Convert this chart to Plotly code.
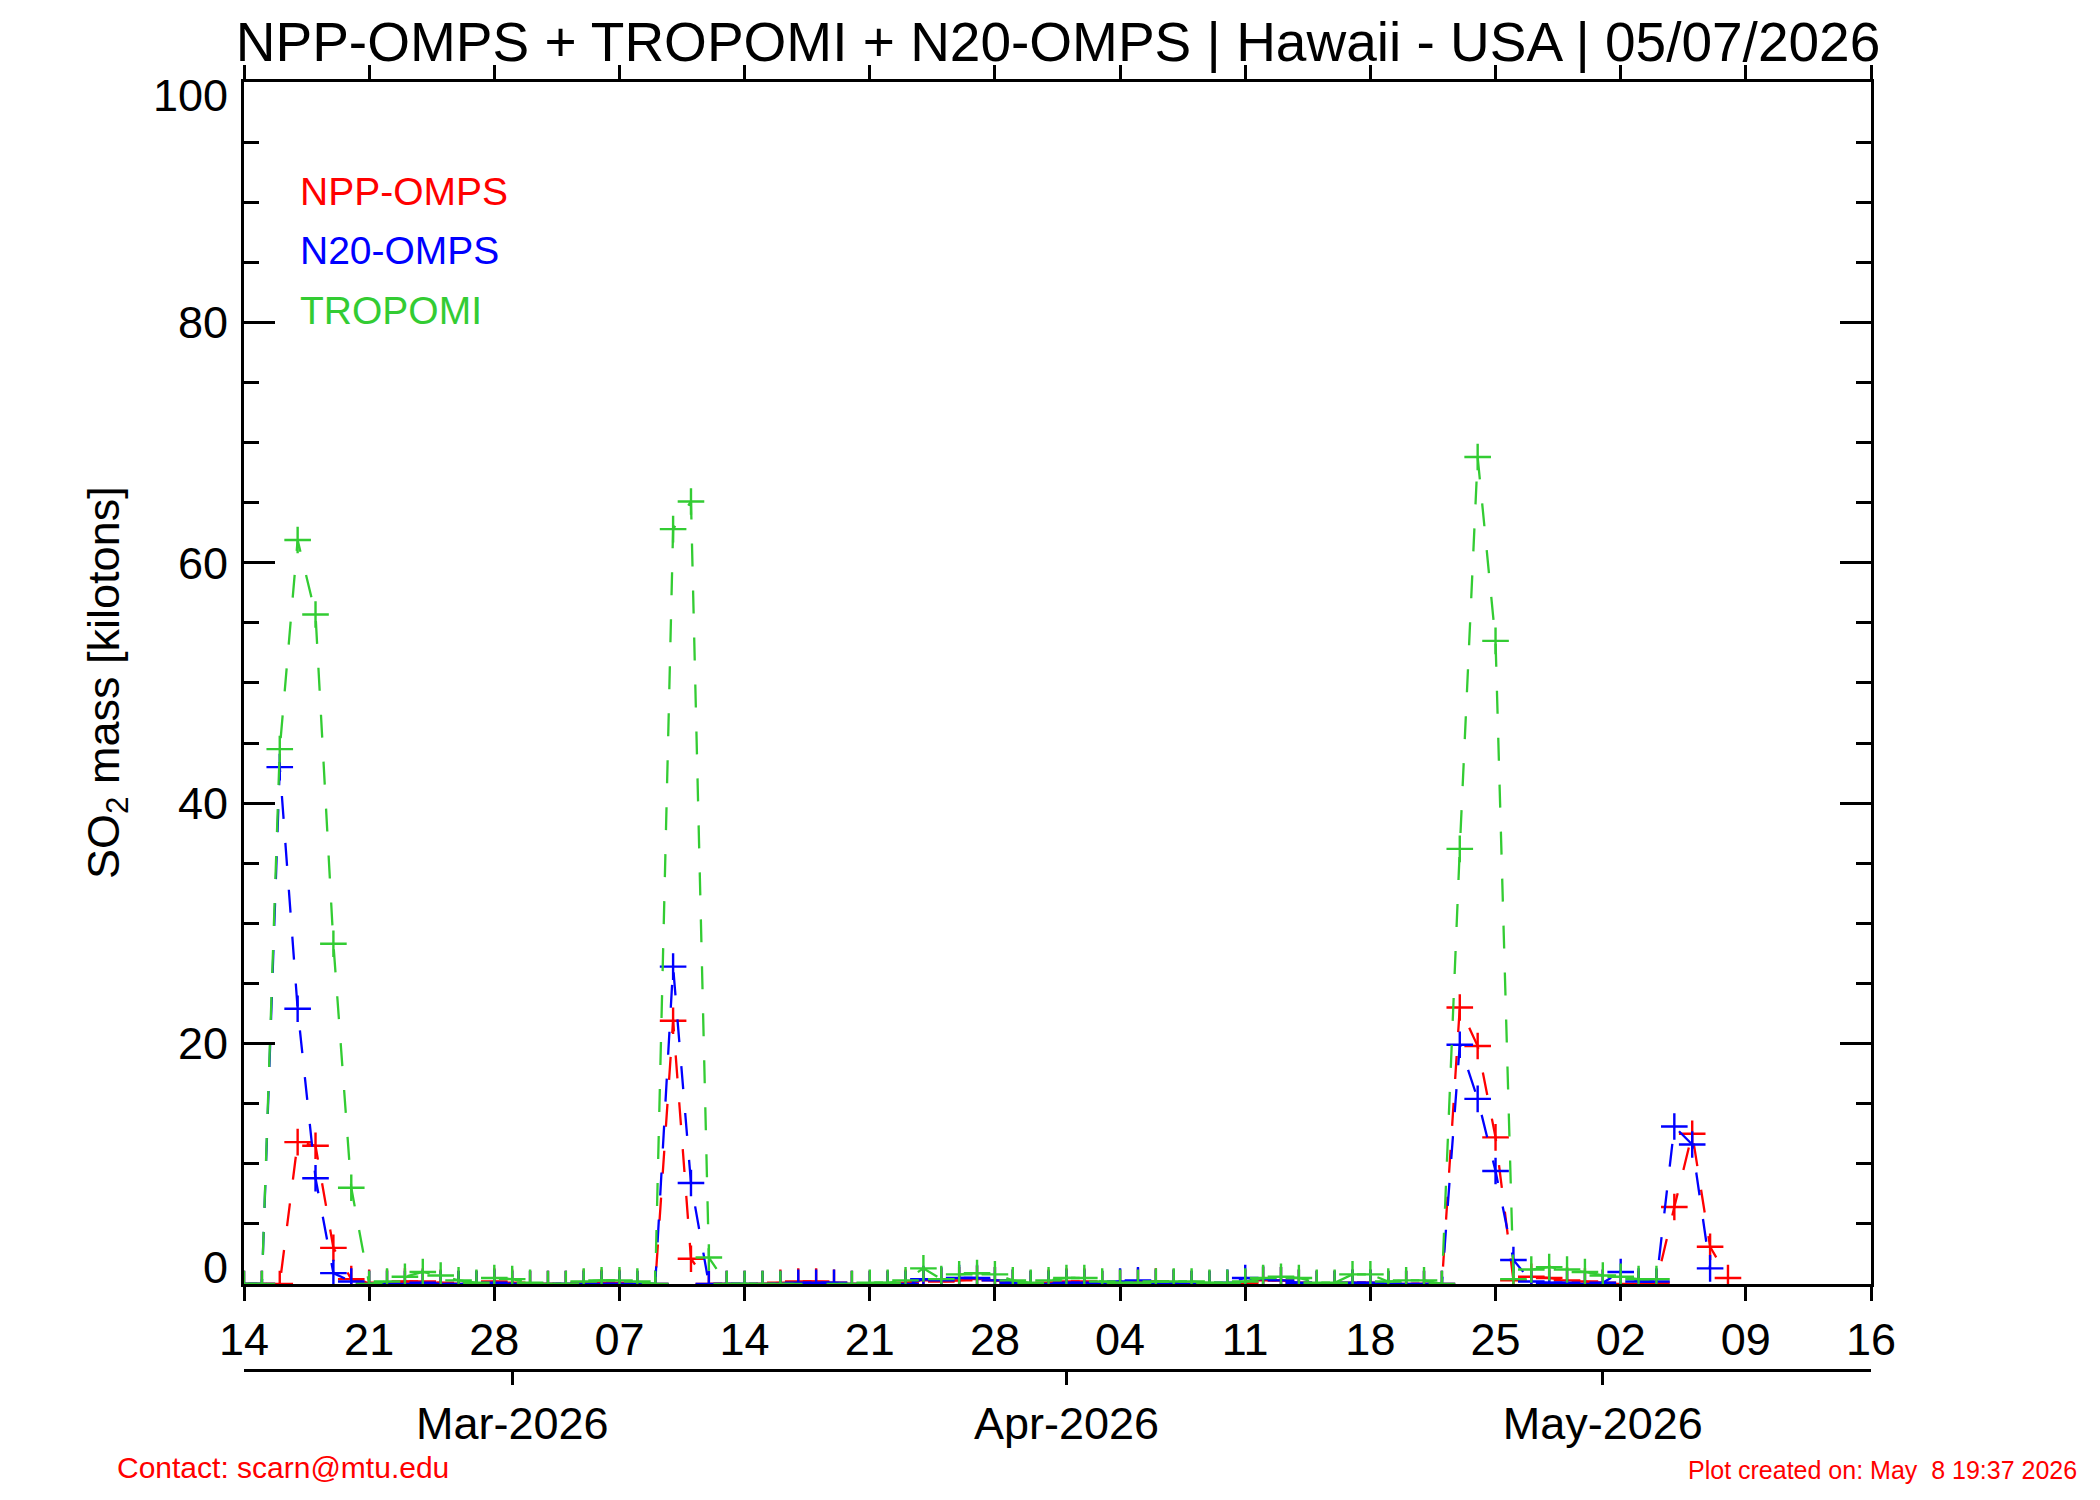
import pandas as pd
import plotly.graph_objects as go

# daily SO2 mass (kilotons), first day = 14 Feb 2026
start_day = '2026-02-14'
x_range = ['2026-02-14', '2026-05-16']

npp_omps = [0, 0, 0, 11.8, 11.5, 3.0, 0.4, 0.1, 0.1, 0.2,
            0.2, 0.1, 0, 0, 0.2, 0.1, 0, 0, 0, 0.1,
            0.1, 0.1, 0, 0, 21.9, 2.1, 0, 0, 0, 0,
            0.1, 0.2, 0.2, 0.1, 0, 0, 0, 0.1, 0.3, 0.2,
            0.3, 0.4, 0.3, 0.1, 0, 0.1, 0.2, 0.2, 0, 0.1,
            0.2, 0.2, 0.1, 0, 0, 0, 0.1, 0.3, 0.3, 0.1,
            0, 0, 0.1, 0.1, 0, 0, 0, 0, 23.0, 19.8,
            12.2, 0.3, 0.6, 0.5, 0.3, 0.2, 0.1, 0, 0, 0.1,
            6.4, 12.5, 3.1, 0.5]

n20_omps = [0, 0, 43.0, 22.9, 8.8, 0.9, 0.2, 0, 0, 0,
            0.1, 0, 0, 0, 0.1, 0, 0, 0, 0, 0,
            0, 0, 0, 0, 26.4, 8.4, 0, 0, 0, 0,
            0, 0.1, 0.1, 0.1, 0, 0, 0, 0, 0.4, 0.3,
            0.5, 0.5, 0.3, 0.1, 0, 0, 0.1, 0.1, 0, 0.2,
            0.3, 0.1, 0.1, 0, 0, 0.1, 0.5, 0.4, 0.3, 0.1,
            0, 0, 0.1, 0.1, 0, 0, 0, 0, 19.9, 15.4,
            9.4, 2.0, 0.2, 0.1, 0.1, 0, 0.1, 1.0, 0.2, 0.2,
            13.1, 11.6, 1.3]

tropomi = [0, 0, 44.5, 61.9, 55.7, 28.3, 8.0, 0, 0.2, 0.6,
           1.0, 0.7, 0.3, 0.1, 0.5, 0.4, 0.1, 0, 0, 0.2,
           0.3, 0.3, 0.2, 0, 62.8, 65.1, 2.2, 0, 0, 0,
           0, None, None, None, 0, 0.1, 0.1, 0.3, 1.3, 0.4,
           0.8, 0.9, 0.8, 0.3, 0.1, 0.3, 0.5, 0.5, 0.2, 0.1,
           0.1, 0.2, 0.2, 0.2, 0.1, 0.1, 0.2, 0.5, 0.6, 0.5,
           0.1, 0.1, 0.8, 0.8, 0.2, 0.3, 0.3, 0, 36.2, 68.8,
           53.5, 0.4, 1.2, 1.4, 1.2, 1.0, 0.7, 0.6, 0.4, 0.4]

y_labels = [20, 40, 60, 80]
y_end_labels = [0, 100]
month_starts = ['2026-03-01', '2026-04-01', '2026-05-01']
month_labels = ['Mar-2026', 'Apr-2026', 'May-2026']

RED = '#FF0000'
BLUE = '#0000FF'
GREEN = '#33CC33'
FONT = 'Liberation Sans, Arial, Helvetica, sans-serif'

fig = go.Figure()

for name, vals, col in [('NPP-OMPS', npp_omps, RED),
                        ('N20-OMPS', n20_omps, BLUE),
                        ('TROPOMI', tropomi, GREEN)]:
    days = pd.date_range(start_day, periods=len(vals), freq='D')
    fig.add_trace(go.Scatter(
        x=days, y=vals, name=name, mode='lines+markers',
        line=dict(color=col, width=2.3, dash='23px,24px'),
        marker=dict(symbol='cross-thin', size=19, line=dict(color=col, width=2.4)),
        connectgaps=True, showlegend=False))

# month axis underneath
fig.add_trace(go.Scatter(x=month_starts, y=[None] * len(month_starts), xaxis='x2',
                         hoverinfo='skip', showlegend=False))

axis_common = dict(showline=True, linecolor='black', linewidth=3, showgrid=False,
                   zeroline=False, tickcolor='black', tickwidth=3,
                   tickfont=dict(size=45, color='black', family=FONT))

fig.update_layout(
    width=2100, height=1500,
    margin=dict(l=236, r=237, t=74, b=80),
    paper_bgcolor='white', plot_bgcolor='white',
    font=dict(family=FONT, color='black'),
    title=dict(text='NPP-OMPS + TROPOMI + N20-OMPS | Hawaii - USA | 05/07/2026',
               x=1050 / 2100, xanchor='center', y=1 - 34 / 1500, yanchor='middle',
               font=dict(size=55, family=FONT, color='black')),
    xaxis=dict(type='date', range=x_range, tick0=start_day, dtick=7 * 86400000,
               tickformat='%d', ticks='outside', ticklen=14, mirror='ticks',
               **axis_common),
    xaxis2=dict(type='date', range=x_range, overlaying='x', anchor='free',
                position=0.0430, side='bottom', tickvals=month_starts,
                ticktext=month_labels, ticks='outside', ticklen=13, **axis_common),
    yaxis=dict(range=[0, 100], tickmode='array', tickvals=y_labels, ticks='inside',
               ticklen=31, mirror='ticks', domain=[0.107, 1], ticklabelstandoff=4,
               minor=dict(tickmode='linear', tick0=0, dtick=5, ticks='inside',
                          ticklen=15, tickwidth=3, tickcolor='black'),
               **axis_common),
)

# end labels of the y axis sit inside the axis span
for v, shift in zip(y_end_labels, [16, -13]):
    fig.add_annotation(text=str(v), xref='paper', yref='y', x=0, y=v,
                       xanchor='right', yanchor='middle', xshift=-14, yshift=shift,
                       showarrow=False, font=dict(size=45, color='black', family=FONT))

for label, col, yy in [('NPP-OMPS', RED, 0.9190), ('N20-OMPS', BLUE, 0.8745),
                       ('TROPOMI', GREEN, 0.8299)]:
    fig.add_annotation(text=label, xref='paper', yref='paper', x=0.0330, y=yy,
                       xanchor='left', yanchor='middle', showarrow=False,
                       font=dict(size=39, color=col, family=FONT))

fig.add_annotation(text='SO<sub>2</sub> mass [kilotons]', xref='paper', yref='paper',
                   x=-0.0842, y=0.5535, textangle=-90, showarrow=False,
                   xanchor='center', yanchor='middle',
                   font=dict(size=45, color='black', family=FONT))

fig.add_annotation(text='Contact: scarn@mtu.edu', xref='paper', yref='paper',
                   x=-0.0793, y=-0.0297, xanchor='left', yanchor='middle',
                   showarrow=False, font=dict(size=30, color=RED, family=FONT))
fig.add_annotation(text='Plot created on: May\u00a0 8 19:37 2026', xref='paper',
                   yref='paper', x=1.128, y=-0.031, xanchor='right',
                   yanchor='middle', showarrow=False,
                   font=dict(size=25, color=RED, family=FONT))

fig.write_html('out.html')
